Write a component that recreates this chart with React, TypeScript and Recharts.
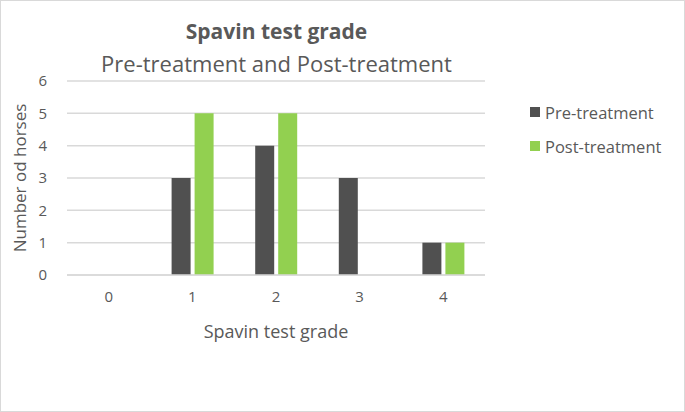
import { Bar, BarChart, CartesianGrid, Label, Legend, XAxis, YAxis } from "recharts";

// Spavin test grade counts
const grades = ["0", "1", "2", "3", "4"];
const preTreatment = [0, 3, 4, 3, 1];
const postTreatment = [0, 5, 5, 0, 1];
const yTicks = [0, 1, 2, 3, 4, 5, 6];
const seriesOrder = ["Pre-treatment", "Post-treatment"];

const chartData = grades.map((grade, i) => ({
    grade,
    pre: preTreatment[i],
    post: postTreatment[i],
}));

const font = "'Open Sans', sans-serif";
const textColor = "#595959";

function LegendBox({ payload }: any)
{
    const items = [...(payload || [])].sort(
        (a: any, b: any) => seriesOrder.indexOf(a.value) - seriesOrder.indexOf(b.value)
    );
    return (
        <div style={{ fontFamily: font, fontSize: 16.5, color: textColor }}>
            {items.map((item: any) => (
                <div key={item.value} style={{ display: "flex", alignItems: "center", height: 34 }}>
                    <span style={{ width: 10, height: 10, background: item.color, marginRight: 5 }} />
                    <span>{item.value}</span>
                </div>
            ))}
        </div>
    );
}

export default function App()
{
    return (
        <div
            style={{
                position: "absolute",
                left: 0,
                top: 0,
                width: 683,
                height: 410,
                border: "1px solid #d9d9d9",
                background: "#fff",
                fontFamily: font,
            }}
        >
            <div style={{ position: "absolute", left: 0, width: 551, top: 16, textAlign: "center", fontSize: 21, fontWeight: 700, color: textColor }}>
                Spavin test grade
            </div>
            <div style={{ position: "absolute", left: 0, width: 551, top: 47, textAlign: "center", fontSize: 22, color: textColor }}>
                Pre-treatment and Post-treatment
            </div>
            <BarChart
                width={683}
                height={410}
                data={chartData}
                margin={{ top: 80, right: 199, bottom: 66, left: 0 }}
                barGap={4}
                barSize={19}
            >
                <CartesianGrid vertical={false} stroke="#d9d9d9" strokeWidth={1.5} />
                <XAxis
                    dataKey="grade"
                    height={70}
                    tickLine={false}
                    axisLine={{ stroke: "#d9d9d9", strokeWidth: 1.5 }}
                    tickMargin={10}
                    tick={{ fill: textColor, fontSize: 15, fontFamily: font }}
                >
                    <Label
                        value="Spavin test grade"
                        position="insideTop"
                        offset={50}
                        style={{ fill: textColor, fontSize: 18, fontFamily: font }}
                    />
                </XAxis>
                <YAxis
                    width={66}
                    domain={[0, 6]}
                    ticks={yTicks}
                    tickLine={false}
                    axisLine={false}
                    tickMargin={14}
                    tick={{ fill: textColor, fontSize: 15, fontFamily: font }}
                >
                    <Label
                        value="Number od horses"
                        angle={-90}
                        position="insideLeft"
                        offset={19}
                        style={{ textAnchor: "middle", fill: textColor, fontSize: 17, fontFamily: font }}
                    />
                </YAxis>
                <Legend
                    layout="vertical"
                    verticalAlign="middle"
                    align="center"
                    content={<LegendBox />}
                    wrapperStyle={{ left: 529, top: 94, width: 160 }}
                />
                <Bar dataKey="pre" name="Pre-treatment" fill="#505050" isAnimationActive={false} />
                <Bar dataKey="post" name="Post-treatment" fill="#92d050" isAnimationActive={false} />
            </BarChart>
        </div>
    );
}
